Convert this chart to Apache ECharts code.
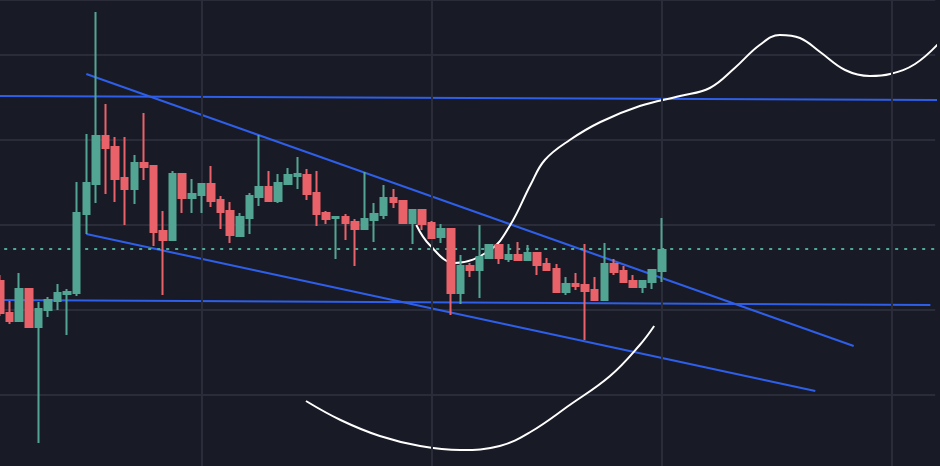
<!DOCTYPE html>
<html>
<head>
<meta charset="utf-8">
<script src="https://cdn.jsdelivr.net/npm/echarts@6/dist/echarts.min.js"></script>
<style>html,body{margin:0;padding:0;background:#181a25;}#main{width:940px;height:466px;}</style>
</head>
<body>
<div id="main"></div>
<script>
// candles: open, close, low, high
var opens  = [199,167,159,191,153,170,179,186,187,266,296,344,333,302,291,317,314,249,240,306,282,285,296,280,269,244,262,283,293,279,296,304,305,287,267,262,263,258,251,260,265,282,279,257,270,257,243,251,187,214,210,222,235,221,225,220,227,216,211,188,196,195,190,180,216,209,199,193,198,209];
var closes = [167,159,191,153,171,180,187,188,267,297,344,332,301,291,317,313,248,240,306,282,286,296,279,268,245,263,284,293,279,297,305,306,286,266,261,263,257,251,261,266,282,278,257,270,256,242,251,187,214,210,223,235,222,225,220,227,215,210,188,196,194,189,180,216,208,198,193,199,210,230];
var lows   = [164,156,159,153,37,163,170,145,184,246,277,286,278,255,276,300,234,185,240,267,267,267,273,251,237,243,246,274,279,277,296,291,280,254,256,221,240,214,251,238,261,272,257,236,250,242,237,165,176,203,182,222,216,218,220,219,205,210,188,185,190,140,180,180,205,197,193,187,191,198];
var highs  = [205,179,207,191,178,183,196,191,298,346,468,376,343,343,325,367,314,269,309,306,301,296,314,284,278,267,287,345,309,306,312,323,311,309,269,263,266,261,308,277,295,291,279,270,270,259,256,251,225,217,255,235,235,236,238,235,227,222,216,203,207,236,203,237,221,214,205,200,210,262];
var slotCount = 98;
var pivot = 231;
var splitCats = [21, 45, 69, 93];
// trend lines [slot, price]
var topLevel   = [[0, 384], [98, 380]];
var lowLevel   = [[0, 180], [97, 175]];
var upperTrend = [[9, 406], [89, 134]];
var lowerTrend = [[9, 246], [85, 89]];
// hand-drawn curves
var upperCurve = [[43.4,255],[44.8,235],[47.4,217],[51.1,230],[53.2,255],[55.3,295],[56.8,320],[59.4,340],[62.6,358],[66.7,374],[70.9,384],[74,392],[76.6,412],[79.2,435],[81.3,445],[83.4,442],[85.5,428],[88.1,410],[90.7,404],[92.8,406],[95.4,416],[98,438]];
var lowerCurve = [[31.9,79],[35.5,60],[39.6,44],[43.8,34],[48,30],[52.1,34],[55.3,48],[59.4,75],[63.6,104],[66.7,135],[68.2,154]];

var cats = [];
for (var i = 0; i < slotCount; i++) cats.push('c' + i);
var kdata = [];
for (var i = 0; i < opens.length; i++) kdata.push([opens[i], closes[i], lows[i], highs[i]]);

var blue = '#2f5fe8';
function trend(d) {
	return {type: 'line', xAxisIndex: 1, data: d, symbol: 'none', silent: true,
		lineStyle: {color: blue, width: 2}, z: 3};
}
function curve(d) {
	return {type: 'line', xAxisIndex: 1, data: d, symbol: 'none', smooth: 0.4, silent: true,
		lineStyle: {color: '#ffffff', width: 2}, z: 4};
}

var myChart = echarts.init(document.getElementById('main'));
var option = {
	backgroundColor: '#181a25',
	animation: false,
	grid: {left: -4.8, width: 940, top: 0, height: 480, outerBoundsMode: 'none', containLabel: false},
	xAxis: [{
		type: 'category', data: cats, boundaryGap: true,
		axisLine: {show: false}, axisTick: {show: false}, axisLabel: {show: false}, splitLine: {show: false}
	}, {
		type: 'value', min: -0.5, max: 97.5, show: false
	}],
	yAxis: {
		type: 'value', min: 0, max: 480, interval: 85,
		axisLine: {show: false}, axisTick: {show: false}, axisLabel: {show: false},
		splitLine: {lineStyle: {color: '#2a2d39', width: 2}}
	},
	series: [{
		type: 'candlestick',
		data: kdata,
		barWidth: 7,
		itemStyle: {color: '#52a593', color0: '#e9626a', borderColor: '#52a593', borderColor0: '#e9626a', borderWidth: 2},
		z: 5,
		markLine: {
			silent: true, symbol: 'none', label: {show: false},
			data: splitCats.map(function (c) {
				return {xAxis: cats[c], lineStyle: {color: '#2a2d39', width: 2, type: 'solid'}};
			}).concat([{yAxis: pivot, lineStyle: {color: '#4fa894', width: 2, type: [3, 6]}}])
		}
	},
		trend(topLevel), trend(lowLevel), trend(upperTrend), trend(lowerTrend),
		curve(upperCurve), curve(lowerCurve)
	]
};
myChart.setOption(option);
</script>
</body>
</html>
